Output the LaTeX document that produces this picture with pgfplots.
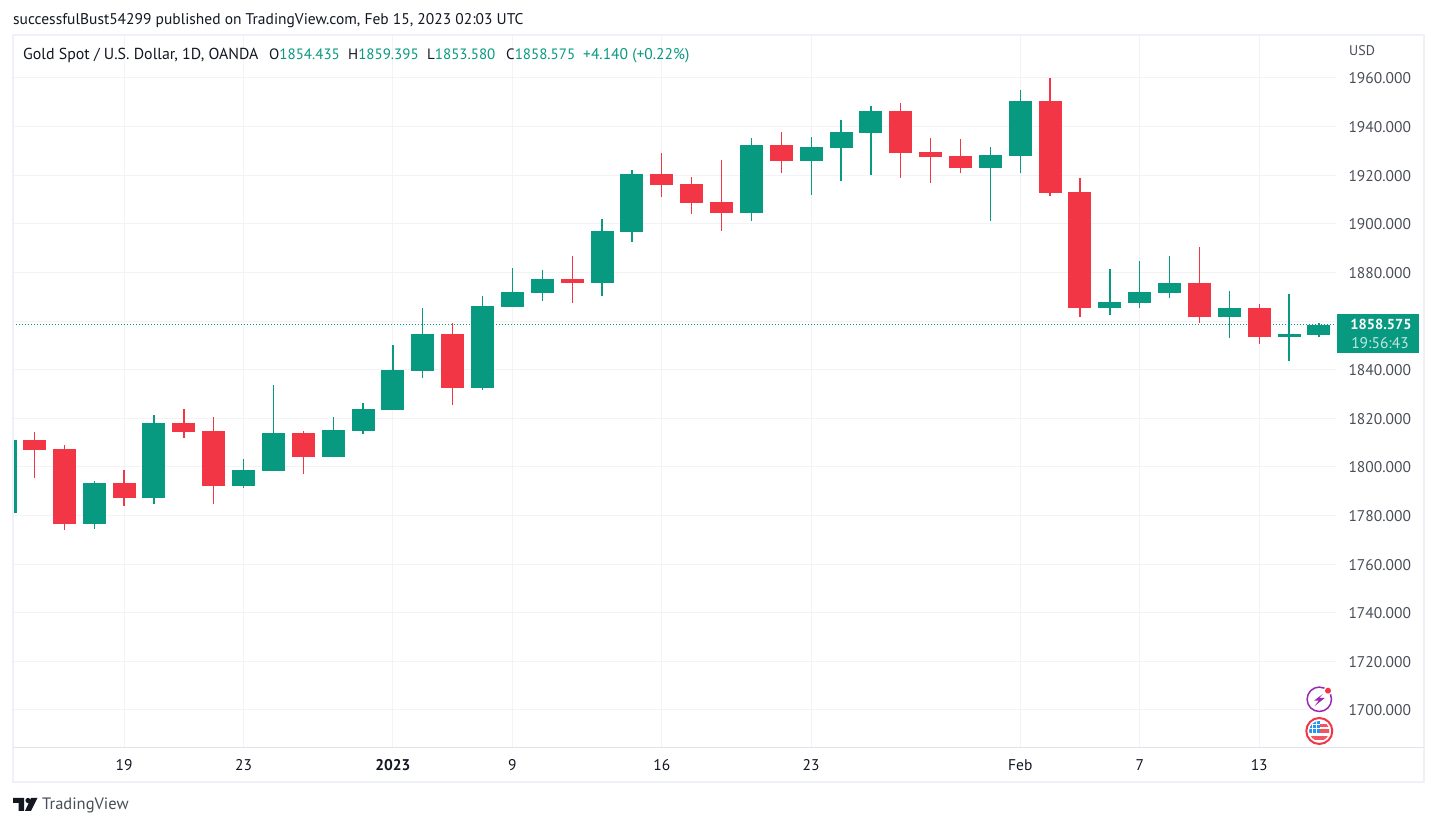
\documentclass[border=0pt]{standalone}
\usepackage{fontspec}
\setmainfont{PT Sans}
\usepackage{pgfplots}
\pgfplotsset{compat=1.18}
\definecolor{tvg}{HTML}{089981}
\definecolor{tvr}{HTML}{F23645}
\definecolor{tvt}{HTML}{131722}
\definecolor{tvl}{HTML}{4A4E57}
\definecolor{tvgrid}{HTML}{F3F3F5}
\definecolor{tvframe}{HTML}{EFF1F8}
\definecolor{tvaxis}{HTML}{E0E3EB}
\definecolor{tvp}{HTML}{9C27B0}
\definecolor{tvb}{HTML}{2196F3}
% index, low, body bottom, body top, high, colour
\newcommand{\candle}[6]{%
  \addplot[#6, line width=1.3pt, line cap=butt, forget plot, mark=none] coordinates {(#1,#2)(#1,#5)};
  \addplot[#6, line width=23pt, line cap=butt, forget plot, mark=none] coordinates {(#1,#3)(#1,#4)};
}
\newcommand{\hf}{\fontsize{15.5}{17}\selectfont}
\newcommand{\nf}{\fontsize{15}{17}\selectfont}
\begin{document}
\begin{tikzpicture}
\path[fill=white] (0,0) rectangle (1437pt,826pt);
\begin{axis}[
  at={(13pt,79pt)}, anchor=south west,
  scale only axis, width=1323pt, height=712pt,
  xmin=-0.72, xmax=43.57, ymin=1684.78, ymax=1977.69,
  axis line style={draw=none},
  major tick length=0pt,
  xtick={3,7,12,16,21,26,33,37,41},
  xticklabels={19,23,\textbf{2023},9,16,23,Feb,7,13},
  ytick={1700,1720,1740,1760,1780,1800,1820,1840,1880,1900,1920,1940,1960},
  extra y ticks={1860},
  extra y tick labels={},
  ytick pos=right,
  xtick pos=bottom,
  grid=major,
  grid style={draw=tvgrid, line width=1pt},
  scaled y ticks=false,
  yticklabel style={/pgf/number format/fixed, /pgf/number format/fixed zerofill,
    /pgf/number format/precision=3, /pgf/number format/1000 sep={},
    /pgf/number format/assume math mode=true,
    font=\hf, text=tvl, anchor=west, xshift=9pt, yshift=-0.5pt},
  xticklabel style={font=\hf, text=tvt, anchor=center, yshift=-18pt},
]
\addplot[tvg, line width=1pt, dotted, forget plot] coordinates {(-0.72,1858.575)(43.57,1858.575)};
\candle{-0.97}{1781.0}{1781.0}{1811.1}{1811.1}{tvg}
\candle{0}{1795.4}{1807.0}{1811.1}{1814.4}{tvr}
\candle{1}{1774.1}{1776.5}{1807.4}{1809.0}{tvr}
\candle{2}{1774.5}{1776.5}{1793.4}{1794.2}{tvg}
\candle{3}{1783.9}{1787.2}{1793.4}{1798.7}{tvr}
\candle{4}{1784.7}{1787.2}{1818.1}{1821.4}{tvg}
\candle{5}{1811.9}{1814.4}{1818.1}{1823.8}{tvr}
\candle{6}{1784.7}{1792.2}{1814.8}{1820.5}{tvr}
\candle{7}{1791.3}{1792.2}{1798.7}{1803.3}{tvg}
\candle{8}{1798.3}{1798.3}{1814.0}{1833.7}{tvg}
\candle{9}{1797.1}{1804.1}{1814.0}{1814.8}{tvr}
\candle{10}{1804.1}{1804.1}{1815.2}{1820.5}{tvg}
\candle{11}{1813.5}{1814.8}{1823.8}{1826.3}{tvg}
\candle{12}{1823.4}{1823.4}{1839.9}{1850.2}{tvg}
\candle{13}{1836.6}{1839.5}{1854.7}{1865.4}{tvg}
\candle{14}{1825.5}{1832.5}{1854.7}{1859.2}{tvr}
\candle{15}{1831.6}{1832.5}{1866.2}{1870.3}{tvg}
\candle{16}{1865.8}{1865.8}{1872.0}{1881.8}{tvg}
\candle{17}{1868.3}{1871.6}{1877.3}{1881.0}{tvg}
\candle{18}{1867.4}{1875.7}{1877.3}{1886.8}{tvr}
\candle{19}{1870.3}{1875.7}{1897.1}{1902.0}{tvg}
\candle{20}{1892.5}{1896.6}{1920.5}{1922.2}{tvg}
\candle{21}{1911.0}{1916.0}{1920.5}{1929.1}{tvr}
\candle{22}{1904.1}{1908.6}{1916.4}{1919.3}{tvr}
\candle{23}{1897.1}{1904.5}{1909.0}{1926.3}{tvr}
\candle{24}{1901.2}{1904.5}{1932.4}{1935.3}{tvg}
\candle{25}{1920.9}{1925.9}{1932.4}{1937.8}{tvr}
\candle{26}{1911.9}{1925.9}{1931.6}{1935.7}{tvg}
\candle{27}{1917.6}{1931.2}{1937.8}{1942.7}{tvg}
\candle{28}{1920.1}{1937.4}{1946.4}{1948.5}{tvg}
\candle{29}{1918.9}{1929.1}{1946.4}{1949.7}{tvr}
\candle{30}{1916.8}{1927.5}{1929.6}{1935.3}{tvr}
\candle{31}{1920.9}{1923.0}{1927.9}{1934.9}{tvr}
\candle{32}{1901.2}{1923.0}{1928.3}{1931.6}{tvg}
\candle{33}{1920.9}{1927.9}{1950.5}{1955.1}{tvg}
\candle{34}{1911.5}{1912.7}{1950.5}{1960.0}{tvr}
\candle{35}{1861.7}{1865.4}{1913.1}{1918.9}{tvr}
\candle{36}{1862.5}{1865.4}{1867.9}{1881.4}{tvg}
\candle{37}{1865.4}{1867.4}{1872.0}{1884.7}{tvg}
\candle{38}{1869.5}{1871.6}{1875.7}{1886.8}{tvg}
\candle{39}{1859.2}{1861.7}{1875.7}{1890.5}{tvr}
\candle{40}{1853.0}{1861.7}{1865.4}{1872.4}{tvg}
\candle{41}{1850.6}{1853.5}{1865.4}{1867.0}{tvr}
\candle{42}{1843.6}{1853.5}{1854.7}{1871.1}{tvg}
\candle{43}{1853.58}{1854.435}{1858.575}{1859.395}{tvg}
\end{axis}
\begin{scope}[x=1pt,y=-1pt,yshift=826pt]
  \draw[tvframe, line width=2pt] (13,35) rectangle (1424,782);
  \draw[tvaxis, line width=1pt] (13,747.5) -- (1424,747.5);
  \node[anchor=base west, inner sep=0pt, text=tvt, font=\hf] at (13,25)
    {successfulBust54299 published on TradingView.com, Feb 15, 2023 02:03 UTC};
  \node[anchor=base west, inner sep=0pt, text=tvt, font=\fontsize{15.9}{17}\selectfont] at (23,59.3) {Gold Spot / U.S. Dollar, 1D, OANDA};
  \node[anchor=base west, inner sep=0pt, text=tvt, font=\nf] at (269,59.3) {O\textcolor{tvg}{1854.435}};
  \node[anchor=base west, inner sep=0pt, text=tvt, font=\nf] at (348,59.3) {H\textcolor{tvg}{1859.395}};
  \node[anchor=base west, inner sep=0pt, text=tvt, font=\nf] at (427,59.3) {L\textcolor{tvg}{1853.580}};
  \node[anchor=base west, inner sep=0pt, text=tvt, font=\nf] at (506,59.3) {C\textcolor{tvg}{1858.575}};
  \node[anchor=base west, inner sep=0pt, text=tvg, font=\hf] at (583,59.3) {+4.140 (+0.22\%)};
  \node[anchor=west, inner sep=0pt, text=tvl, font=\fontsize{14}{16}\selectfont] at (1349,51) {USD};
  % last-price tag
  \fill[tvg] (1337,314) rectangle (1419,353);
  \node[anchor=center, inner sep=0pt, text=white, font=\fontsize{14.5}{16}\selectfont\bfseries] at (1381,324) {1858.575};
  \node[anchor=center, inner sep=0pt, text=white!75!tvg, font=\hf] at (1380,343) {19:56:43};
  % purple event icon
  \draw[tvp, line width=1.5pt] (1319.3,699.3) circle (12.2);
  \fill[tvp] (1322.7,694) -- (1314,700.7) -- (1318.7,700.7) -- (1314.7,706) -- (1324.7,698) -- (1319.3,698) -- cycle;
  \fill[white] (1328,690.7) circle (4.5);
  \fill[tvr] (1328,690.7) circle (3);
  % flag icon
  \draw[tvr, line width=2pt] (1319.3,731) circle (13);
  \begin{scope}
    \clip (1319.3,731) circle (10);
    \fill[white] (1308,720) rectangle (1331,742);
    \fill[tvr!85!white] (1308,724) rectangle (1331,727);
    \fill[tvr!85!white] (1308,729) rectangle (1331,732.7);
    \fill[tvr!85!white] (1308,736) rectangle (1331,740);
    \fill[tvb] (1308,720) rectangle (1320,732.7);
    \draw[white, line width=0.5pt] (1312,720) -- (1312,733) (1316,720) -- (1316,733) (1308,724.5) -- (1320,724.5) (1308,728.5) -- (1320,728.5);
  \end{scope}
  % logo
  \fill[tvt] (13,798) rectangle (24,803) (18.5,803) rectangle (24,811);
  \fill[tvt] (28,800.5) circle (2.6);
  \fill[tvt] (31,798) -- (37.5,798) -- (31,811) -- (25,811) -- cycle;
  \node[anchor=base west, inner sep=0pt, text=tvl, font=\fontsize{16.5}{18}\selectfont] at (42,810) {TradingView};
\end{scope}
\end{tikzpicture}
\end{document}
